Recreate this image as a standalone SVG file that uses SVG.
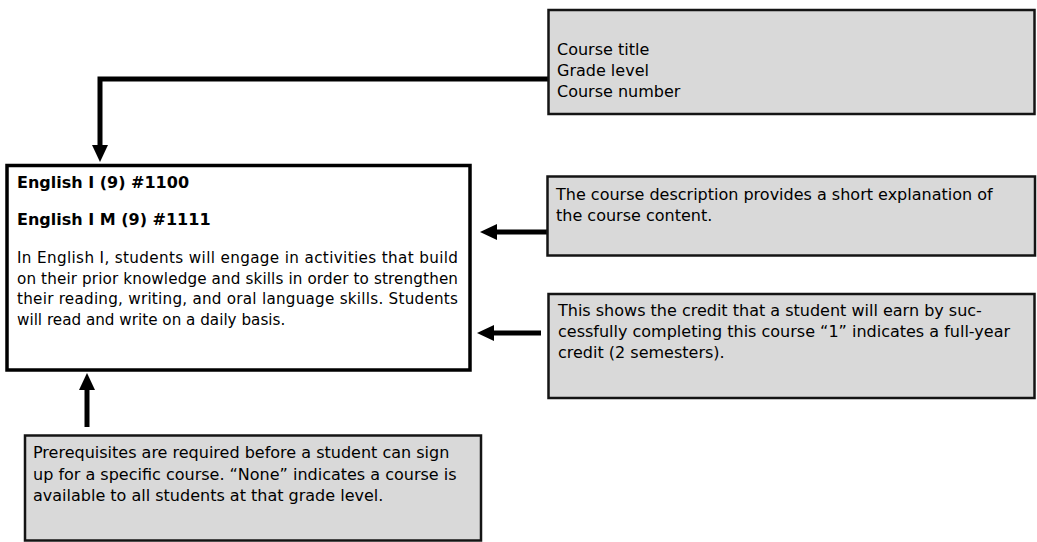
<svg xmlns="http://www.w3.org/2000/svg" width="1037" height="542" viewBox="0 0 1037 542">
<style>
.note{fill:#d9d9d9;stroke:#141414;stroke-width:2.5}
.main{fill:#fff;stroke:#000;stroke-width:3.5}
.t{font-family:"DejaVu Sans","Verdana",sans-serif;font-size:16px;fill:#000}
.b{font-family:"DejaVu Sans","Verdana",sans-serif;font-size:16px;font-weight:bold;fill:#000}
.r{font-family:"DejaVu Sans","Verdana",sans-serif;font-size:15.2px;fill:#000}
.c{fill:none;stroke:#000;stroke-width:5}
</style>
<defs>
<marker id="ah" viewBox="0 0 17 16" refX="0" refY="8" markerWidth="17" markerHeight="16" markerUnits="userSpaceOnUse" orient="auto">
<path d="M0,0 L17,8 L0,16 Z" fill="#000"/>
</marker>
</defs>
<rect width="1037" height="542" fill="#fff"/>
<g id="connectors">
<path class="c" d="M548,79 H100 V145" marker-end="url(#ah)"/>
<path class="c" d="M547,232 H497" marker-end="url(#ah)"/>
<path class="c" d="M541,333 H494" marker-end="url(#ah)"/>
<path class="c" d="M87,427 V390" marker-end="url(#ah)"/>
</g>
<g id="course">
<rect class="main" x="7" y="165.5" width="463" height="204.5"/>
<text class="b" x="17" y="188">English I (9) #1100</text>
<text class="b" x="17" y="225">English I M (9) #1111</text>
<text class="r" x="17" y="263" textLength="441" lengthAdjust="spacing">In English I, students will engage in activities that build</text>
<text class="r" x="17" y="283.5" textLength="441" lengthAdjust="spacing">on their prior knowledge and skills in order to strengthen</text>
<text class="r" x="17" y="304" textLength="441" lengthAdjust="spacing">their reading, writing, and oral language skills.  Students</text>
<text class="r" x="17" y="324.5">will read and write on a daily basis.</text>
</g>
<g id="title-note">
<rect class="note" x="548.5" y="10" width="486" height="104"/>
<text class="t" x="557" y="55">Course title</text>
<text class="t" x="557" y="76">Grade level</text>
<text class="t" x="557" y="97">Course number</text>
</g>
<g id="description-note">
<rect class="note" x="547.5" y="176.5" width="487.5" height="79"/>
<text class="t" x="556" y="200">The course description provides a short explanation of</text>
<text class="t" x="556" y="221">the course content.</text>
</g>
<g id="credit-note">
<rect class="note" x="548.5" y="294" width="486" height="104"/>
<text class="t" x="558" y="316">This shows the credit that a student will earn by suc-</text>
<text class="t" x="558" y="337">cessfully completing this course “1” indicates a full-year</text>
<text class="t" x="558" y="358">credit (2 semesters).</text>
</g>
<g id="prereq-note">
<rect class="note" x="25" y="435.5" width="456" height="105"/>
<text class="t" x="33" y="458">Prerequisites are required before a student can sign</text>
<text class="t" x="33" y="479.5">up for a specific course. “None” indicates a course is</text>
<text class="t" x="33" y="501">available to all students at that grade level.</text>
</g>
</svg>
